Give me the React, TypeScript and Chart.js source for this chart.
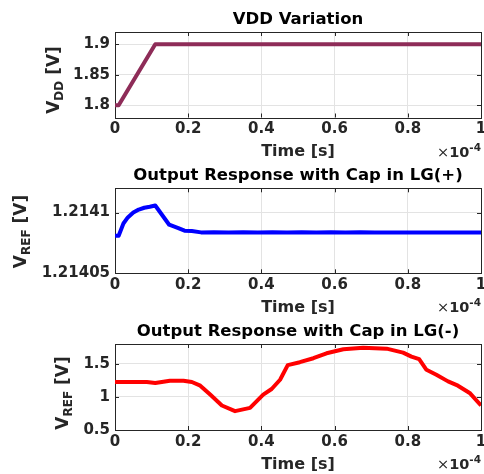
import React, { useEffect, useRef } from "react";
import { Chart, registerables } from "chart.js";

Chart.register(...registerables);

// ---------- data ----------
const xTicks = [0, 0.2, 0.4, 0.6, 0.8, 1];
const xTickLabels = ["0", "0.2", "0.4", "0.6", "0.8", "1"];

const timeVdd = [0, 0.01, 0.11, 1];
const vdd = [1.8, 1.8, 1.9, 1.9];
const vddTicks = [1.8, 1.85, 1.9];
const vddTickLabels = ["1.8", "1.85", "1.9"];

const timeLgPlus = [0, 0.01, 0.023, 0.035, 0.05, 0.065, 0.08, 0.095, 0.11, 0.148, 0.173, 0.19, 0.21, 0.235, 0.27, 0.31, 0.35, 0.39, 0.43, 0.47, 0.51, 0.55, 0.59, 0.63, 0.67, 0.71, 0.75, 0.79, 0.83, 0.87, 0.91, 0.95, 1];
const vrefLgPlus = [1.214081, 1.214081, 1.214091, 1.214096, 1.2141, 1.2141025, 1.214104, 1.2141048, 1.2141058, 1.21409, 1.2140872, 1.2140851, 1.2140848, 1.2140837, 1.2140838, 1.2140835, 1.2140839, 1.2140835, 1.2140838, 1.2140836, 1.2140839, 1.2140836, 1.2140838, 1.2140836, 1.2140838, 1.2140836, 1.2140837, 1.2140836, 1.2140837, 1.2140836, 1.2140837, 1.2140836, 1.2140837];
const lgPlusTicks = [1.21405, 1.2141];
const lgPlusTickLabels = ["1.21405", "1.2141"];

const timeLgMinus = [0, 0.05, 0.087, 0.11, 0.15, 0.187, 0.21, 0.233, 0.26, 0.292, 0.328, 0.369, 0.405, 0.428, 0.451, 0.472, 0.505, 0.542, 0.578, 0.624, 0.678, 0.742, 0.787, 0.81, 0.831, 0.851, 0.878, 0.91, 0.937, 0.969, 1];
const vrefLgMinus = [1.225, 1.225, 1.225, 1.21, 1.245, 1.245, 1.225, 1.17, 1.035, 0.87, 0.785, 0.835, 1.035, 1.12, 1.26, 1.48, 1.525, 1.585, 1.66, 1.72, 1.745, 1.73, 1.67, 1.61, 1.57, 1.41, 1.335, 1.235, 1.17, 1.06, 0.87];
const lgMinusTicks = [0.5, 1, 1.5];
const lgMinusTickLabels = ["0.5", "1", "1.5"];

// ---------- styling ----------
const W = 484;
const H = 158;
const FONT = "'DejaVu Sans', sans-serif";
const TEXT = "#262626";
const GRID = "#e3e3e3";

type Spec = {
  title: string;
  ySub: string;
  color: string;
  time: number[];
  values: number[];
  yMin: number;
  yMax: number;
  yTicks: number[];
  yTickLabels: string[];
  offset: number;
  areaTop: number;
  areaBottom: number;
  yLabelX: number;
  yLabelCenter: number;
};

const specs: Spec[] = [
  {
    title: "VDD Variation", ySub: "DD", color: "#8E2C58",
    time: timeVdd, values: vdd, yMin: 1.78, yMax: 1.92,
    yTicks: vddTicks, yTickLabels: vddTickLabels,
    offset: 0, areaTop: 32, areaBottom: 117.5, yLabelX: 53, yLabelCenter: 80,
  },
  {
    title: "Output Response with Cap in LG(+)", ySub: "REF", color: "#0000FF",
    time: timeLgPlus, values: vrefLgPlus, yMin: 1.21405, yMax: 1.21412,
    yTicks: lgPlusTicks, yTickLabels: lgPlusTickLabels,
    offset: 158, areaTop: 30.3, areaBottom: 115.3, yLabelX: 20, yLabelCenter: 73.5,
  },
  {
    title: "Output Response with Cap in LG(-)", ySub: "REF", color: "#FF0000",
    time: timeLgMinus, values: vrefLgMinus, yMin: 0.5, yMax: 1.8,
    yTicks: lgMinusTicks, yTickLabels: lgMinusTickLabels,
    offset: 316, areaTop: 28, areaBottom: 114, yLabelX: 62, yLabelCenter: 77,
  },
];

function makePlugin(spec: Spec) {
  return {
    id: "matlabDeco",
    beforeDatasetsDraw(chart: any) {
      const { ctx, chartArea: a, scales } = chart;
      ctx.save();
      ctx.strokeStyle = TEXT;
      ctx.lineWidth = 1;
      ctx.strokeRect(Math.round(a.left) + 0.5, Math.round(a.top) + 0.5, Math.round(a.right - a.left), Math.round(a.bottom - a.top));
      const tl = 4;
      ctx.beginPath();
      for (const v of xTicks) {
        const px = Math.round(scales.x.getPixelForValue(v)) + 0.5;
        ctx.moveTo(px, a.bottom); ctx.lineTo(px, a.bottom - tl);
        ctx.moveTo(px, a.top); ctx.lineTo(px, a.top + tl);
      }
      for (const v of spec.yTicks) {
        const py = Math.round(scales.y.getPixelForValue(v)) + 0.5;
        ctx.moveTo(a.left, py); ctx.lineTo(a.left + tl, py);
        ctx.moveTo(a.right, py); ctx.lineTo(a.right - tl, py);
      }
      ctx.stroke();
      ctx.restore();
    },
    afterDraw(chart: any) {
      const { ctx, chartArea: a } = chart;
      const cx = (a.left + a.right) / 2;
      ctx.save();
      ctx.textBaseline = "alphabetic";
      // title
      ctx.fillStyle = "#000";
      ctx.font = `bold 16.5px ${FONT}`;
      ctx.textAlign = "center";
      ctx.fillText(spec.title, cx, a.top - 8);
      // x label
      ctx.fillStyle = TEXT;
      ctx.font = `bold 16px ${FONT}`;
      ctx.fillText("Time [s]", cx, a.bottom + 38.5);
      // exponent ×10^-4
      const baseY = a.bottom + 39;
      ctx.textAlign = "left";
      ctx.font = `bold 10.5px ${FONT}`;
      const wExp = ctx.measureText("-4").width;
      ctx.font = `bold 14.5px ${FONT}`;
      const wTen = ctx.measureText("10").width;
      ctx.font = `14.5px ${FONT}`;
      const wTimes = ctx.measureText("×").width;
      let x0 = a.right - wExp - wTen - wTimes;
      ctx.fillText("×", x0, baseY);
      x0 += wTimes;
      ctx.font = `bold 14.5px ${FONT}`;
      ctx.fillText("10", x0, baseY);
      x0 += wTen;
      ctx.font = `bold 10.5px ${FONT}`;
      ctx.fillText("-4", x0, baseY - 6);
      // y label (rotated) V_sub [V]
      ctx.translate(spec.yLabelX, spec.yLabelCenter);
      ctx.rotate(-Math.PI / 2);
      const mainF = `bold 17px ${FONT}`;
      const subF = `bold 12px ${FONT}`;
      ctx.font = mainF;
      const wV = ctx.measureText("V").width;
      const wRest = ctx.measureText(" [V]").width;
      ctx.font = subF;
      const wSub = ctx.measureText(spec.ySub).width;
      const total = wV + wSub + wRest;
      let lx = -total / 2;
      const bl = 6;
      ctx.font = mainF;
      ctx.fillText("V", lx, bl);
      lx += wV;
      ctx.font = subF;
      ctx.fillText(spec.ySub, lx, bl + 4);
      lx += wSub;
      ctx.font = mainF;
      ctx.fillText(" [V]", lx, bl);
      ctx.restore();
    },
  };
}

function Panel({ spec }: { spec: Spec }) {
  const ref = useRef<HTMLCanvasElement | null>(null);
  useEffect(() => {
    const canvas = ref.current;
    if (!canvas) return;
    const tickFont = { family: FONT, weight: "bold" as const, size: 15 };
    const chart = new Chart(canvas, {
      type: "line",
      data: {
        datasets: [
          {
            data: spec.time.map((t, i) => ({ x: t, y: spec.values[i] })),
            borderColor: spec.color,
            backgroundColor: spec.color,
            borderWidth: 4,
            pointRadius: 0,
            tension: 0,
            borderJoinStyle: "round",
            borderCapStyle: "butt",
            fill: false,
          },
        ],
      },
      options: {
        responsive: false,
        animation: false,
        events: [],
        layout: { padding: { top: spec.areaTop, right: 3, bottom: 0, left: 0 } },
        plugins: {
          legend: { display: false },
          tooltip: { enabled: false },
          title: { display: false },
        },
        scales: {
          x: {
            type: "linear",
            min: 0,
            max: 1,
            afterBuildTicks: (s: any) => { s.ticks = xTicks.map((v) => ({ value: v })); },
            afterFit: (s: any) => { s.height = H - spec.areaBottom; s.paddingLeft = 0; s.paddingRight = 0; },
            ticks: {
              callback: (v: any) => xTickLabels[xTicks.indexOf(Number(v))] ?? "",
              font: tickFont,
              color: TEXT,
              padding: 3,
              maxRotation: 0,
              autoSkip: false,
            },
            grid: { color: GRID, drawTicks: false, lineWidth: 1 },
            border: { display: false },
          },
          y: {
            type: "linear",
            min: spec.yMin,
            max: spec.yMax,
            afterBuildTicks: (s: any) => { s.ticks = spec.yTicks.map((v) => ({ value: v })); },
            afterFit: (s: any) => { s.width = 115; s.paddingTop = 0; s.paddingBottom = 0; },
            ticks: {
              callback: (v: any) => spec.yTickLabels[spec.yTicks.indexOf(Number(v))] ?? "",
              font: tickFont,
              color: TEXT,
              padding: 5,
              autoSkip: false,
            },
            grid: { color: GRID, drawTicks: false, lineWidth: 1 },
            border: { display: false },
          },
        },
      },
      plugins: [makePlugin(spec)],
    } as any);
    return () => chart.destroy();
  }, [spec]);
  return (
    <canvas
      ref={ref}
      width={W}
      height={H}
      style={{ position: "absolute", left: 0, top: spec.offset, width: W, height: H, display: "block" }}
    />
  );
}

export default function App() {
  return (
    <div style={{ position: "fixed", left: 0, top: 0, width: W, height: 474, background: "#fff", overflow: "hidden" }}>
      {specs.map((s, i) => (
        <Panel key={i} spec={s} />
      ))}
    </div>
  );
}
